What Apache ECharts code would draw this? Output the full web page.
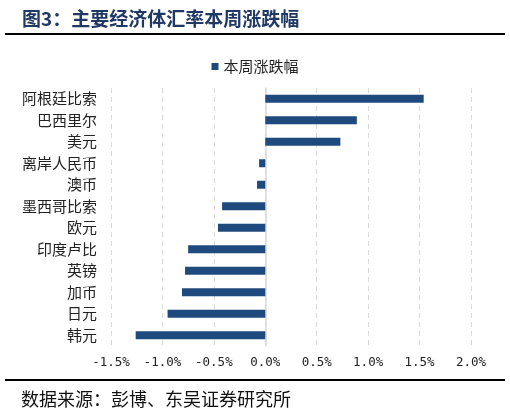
<!DOCTYPE html>
<html>
<head>
<meta charset="utf-8">
<script src="https://cdn.jsdelivr.net/npm/echarts@6/dist/echarts.min.js"></script>
<style>
  html, body { margin: 0; padding: 0; background: #fff; }
  #main { width: 510px; height: 414px; }
</style>
</head>
<body>
<div id="main"></div>
<script>
// 货币名称（从上到下）
const currencies = ["阿根廷比索", "巴西里尔", "美元", "离岸人民币", "澳币", "墨西哥比索", "欧元", "印度卢比", "英镑", "加币", "日元", "韩元"];
// 本周涨跌幅 (%)
const weekChange = [1.54, 0.89, 0.73, -0.06, -0.08, -0.42, -0.46, -0.75, -0.78, -0.81, -0.95, -1.26];
const xTicks = { min: -1.5, max: 2.0, step: 0.5 };

const myChart = echarts.init(document.getElementById("main"));
const font = "'Noto Sans CJK SC', sans-serif";
const option = {
  animation: false,
  title: [
    {
      text: "图3：主要经济体汇率本周涨跌幅",
      left: 17,
      top: 4,
      textStyle: { fontSize: 19, fontWeight: "bold", color: "#1f3864", fontFamily: font },
    },
    {
      text: "数据来源：彭博、东吴证券研究所",
      left: 16,
      top: 385,
      textStyle: { fontSize: 18, fontWeight: "normal", color: "#111", fontFamily: font },
    },
  ],
  graphic: [
    { type: "line", shape: { x1: 5, y1: 34, x2: 505, y2: 34 }, style: { stroke: "#000", lineWidth: 2 } },
    { type: "line", shape: { x1: 5, y1: 380, x2: 505, y2: 380 }, style: { stroke: "#000", lineWidth: 2 } },
  ],
  legend: {
    top: 54,
    left: "center",
    itemWidth: 7,
    itemHeight: 7,
    itemGap: 6,
    icon: "rect",
    textStyle: { fontSize: 15, color: "#222", fontFamily: font },
    data: ["本周涨跌幅"],
  },
  grid: { left: 111, right: 39, top: 88, bottom: 68 },
  xAxis: {
    type: "value",
    min: xTicks.min,
    max: xTicks.max,
    interval: xTicks.step,
    axisLine: { show: false },
    axisTick: { show: false },
    axisLabel: {
      color: "#222",
      fontSize: 12.5,
      fontFamily: "'DejaVu Sans Mono', monospace",
      margin: 10,
      formatter: (v) => v.toFixed(1) + "%",
    },
    splitLine: { show: true, lineStyle: { color: "#d9d9d9", type: [5, 4] } },
  },
  yAxis: {
    type: "category",
    inverse: true,
    data: currencies,
    axisLine: { show: true, onZero: true, lineStyle: { color: "#d9d9d9", width: 1.5 } },
    axisTick: { show: false },
    axisLabel: {
      color: "#222",
      fontSize: 15,
      fontFamily: font,
      margin: 14,
    },
  },
  series: [
    {
      name: "本周涨跌幅",
      type: "bar",
      data: weekChange,
      barWidth: 8,
      itemStyle: { color: "#1f4a7e" },
    },
  ],
};
myChart.setOption(option);
</script>
</body>
</html>
